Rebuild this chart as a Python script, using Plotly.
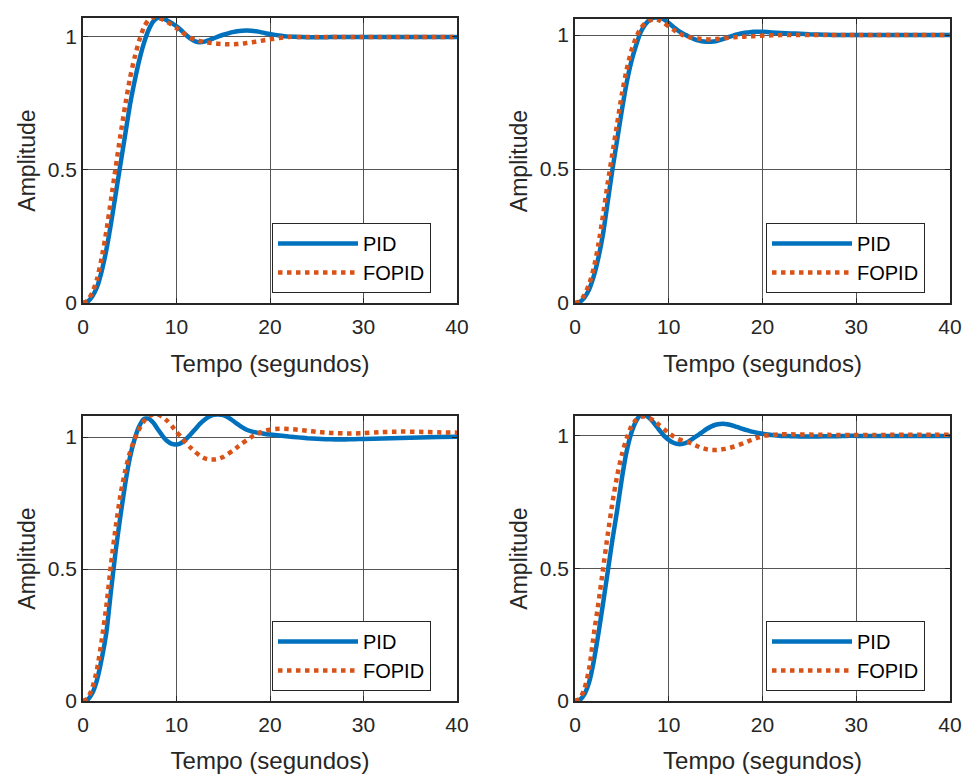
import plotly.graph_objects as go

# ---------------- data ----------------
TIME = [0, 0.5, 1, 1.5, 2, 2.5, 3, 3.5, 4, 4.5, 5, 5.5, 6, 6.5, 7, 7.5, 8, 8.5, 9, 9.5,
        10, 10.5, 11, 11.5, 12, 12.5, 13, 13.5, 14, 14.5, 15, 15.5, 16, 16.5, 17, 17.5,
        18, 18.5, 19, 19.5, 20, 21, 22, 23, 24, 25, 26, 27, 28, 29, 30, 32, 34, 36, 38, 40]

TL_PID = [0, 0.005, 0.025, 0.06, 0.12, 0.2, 0.3, 0.41, 0.52, 0.63, 0.74, 0.83, 0.91, 0.975,
          1.025, 1.058, 1.072, 1.07, 1.062, 1.052, 1.04, 1.025, 1.008, 0.993, 0.983, 0.98,
          0.982, 0.988, 0.995, 1.002, 1.008, 1.013, 1.018, 1.021, 1.023, 1.024, 1.023, 1.021,
          1.018, 1.014, 1.011, 1.005, 1.001, 1.0, 0.999, 0.999, 0.999, 1.0, 1.0, 1.0, 1.0,
          1.0, 1.0, 1.0, 1.0, 1.0]
TL_FOPID = [0, 0.01, 0.04, 0.09, 0.17, 0.27, 0.39, 0.51, 0.63, 0.74, 0.84, 0.92, 0.985, 1.035,
            1.064, 1.074, 1.072, 1.066, 1.057, 1.045, 1.033, 1.02, 1.008, 0.997, 0.989, 0.984,
            0.98, 0.978, 0.976, 0.974, 0.973, 0.972, 0.972, 0.973, 0.975, 0.977, 0.98, 0.982,
            0.985, 0.988, 0.991, 0.996, 1.0, 1.0, 1.0, 1.0, 1.0, 1.0, 1.0, 1.0, 1.0,
            1.0, 1.0, 1.0, 1.0, 1.0]

TR_PID = [0, 0.004, 0.02, 0.05, 0.1, 0.17, 0.26, 0.38, 0.5, 0.61, 0.72, 0.82, 0.9, 0.96,
          1.01, 1.04, 1.058, 1.065, 1.065, 1.058, 1.045, 1.03, 1.017, 1.006, 0.997, 0.988,
          0.981, 0.977, 0.975, 0.975, 0.977, 0.982, 0.988, 0.994, 1.0, 1.004, 1.008, 1.01,
          1.012, 1.012, 1.012, 1.01, 1.008, 1.006, 1.005, 1.003, 1.002, 1.001, 1.0, 1.0, 1.0,
          1.0, 1.0, 1.0, 1.0, 1.0]
TR_FOPID = [0, 0.006, 0.03, 0.07, 0.13, 0.22, 0.33, 0.45, 0.56, 0.67, 0.78, 0.87, 0.94, 0.99,
            1.025, 1.045, 1.055, 1.058, 1.055, 1.045, 1.032, 1.02, 1.008, 1.0, 0.994, 0.99,
            0.987, 0.985, 0.984, 0.984, 0.985, 0.987, 0.989, 0.99, 0.992, 0.993, 0.994, 0.995,
            0.996, 0.997, 0.998, 0.999, 1.0, 1.0, 1.0, 1.0, 1.0, 1.0, 1.0, 1.0, 1.0,
            1.0, 1.0, 1.0, 1.0, 1.0]

BL_PID = [0, 0.005, 0.03, 0.08, 0.16, 0.26, 0.42, 0.57, 0.7, 0.82, 0.92, 0.99, 1.04, 1.068,
          1.07, 1.055, 1.03, 1.005, 0.985, 0.974, 0.972, 0.978, 0.992, 1.01, 1.03, 1.05,
          1.066, 1.078, 1.085, 1.086, 1.083, 1.075, 1.063, 1.05, 1.038, 1.028, 1.022, 1.018,
          1.015, 1.012, 1.01, 1.006, 1.002, 0.999, 0.996, 0.994, 0.992, 0.991, 0.991, 0.992,
          0.993, 0.995, 0.997, 0.999, 1.0, 1.001]
BL_FOPID = [0, 0.01, 0.05, 0.12, 0.23, 0.36, 0.52, 0.66, 0.78, 0.87, 0.94, 0.99, 1.03, 1.06,
            1.078, 1.086, 1.085, 1.077, 1.062, 1.042, 1.02, 1.0, 0.978, 0.96, 0.944, 0.93,
            0.92, 0.915, 0.915, 0.918, 0.925, 0.936, 0.948, 0.962, 0.976, 0.988, 1.0, 1.01,
            1.018, 1.024, 1.028, 1.032, 1.031, 1.028, 1.024, 1.02, 1.017, 1.015, 1.014, 1.014,
            1.015, 1.019, 1.021, 1.02, 1.018, 1.017]

BR_PID = [0, 0.004, 0.025, 0.07, 0.15, 0.255, 0.37, 0.49, 0.61, 0.72, 0.84, 0.94, 1.01, 1.055,
          1.078, 1.078, 1.065, 1.045, 1.022, 1.0, 0.985, 0.974, 0.969, 0.97, 0.976, 0.988,
          1.0, 1.012, 1.025, 1.035, 1.042, 1.045, 1.045, 1.042, 1.037, 1.031, 1.025, 1.02,
          1.015, 1.011, 1.008, 1.003, 1.0, 0.999, 0.998, 0.998, 0.998, 0.999, 0.999, 1.0,
          1.0, 1.0, 1.0, 1.0, 1.0, 1.0]
BR_FOPID = [0, 0.008, 0.045, 0.12, 0.25, 0.37, 0.5, 0.63, 0.75, 0.85, 0.93, 0.99, 1.035, 1.06,
            1.072, 1.073, 1.066, 1.055, 1.04, 1.025, 1.01, 0.998, 0.988, 0.982, 0.977, 0.97,
            0.962, 0.955, 0.95, 0.947, 0.947, 0.948, 0.951, 0.955, 0.96, 0.966, 0.973, 0.98,
            0.987, 0.993, 0.999, 1.004, 1.006, 1.006, 1.005, 1.005, 1.004, 1.004, 1.003, 1.003,
            1.003, 1.003, 1.004, 1.004, 1.004, 1.004]

SERIES_NAMES = ["PID", "FOPID"]
X_TICKS = [0, 10, 20, 30, 40]
Y_TICKS = [0, 0.5, 1]
Y_TICK_TEXT = ["0", "0.5", "1"]
X_TITLE = "Tempo (segundos)"
Y_TITLE = "Amplitude"

PANELS = [
    (TL_PID, TL_FOPID, 1.071),
    (TR_PID, TR_FOPID, 1.06),
    (BL_PID, BL_FOPID, 1.08),
    (BR_PID, BR_FOPID, 1.075),
]

# ---------------- styling / layout ----------------
W, H = 964, 774
BLUE = "#0072BD"
ORANGE = "#D95319"
TXT = "#262626"
FONT = "Liberation Sans, Arial, sans-serif"

# pixel boxes of the 4 axes: (left, right, top, bottom)
BOXES = [(83, 457, 18, 303), (575, 950, 19, 303), (83, 457, 416, 701), (575, 950, 416, 701)]
LEGEND_POS = [(272, 223), (766, 223), (272, 621), (766, 621)]

fig = go.Figure()
layout = dict(
    width=W, height=H, margin=dict(l=0, r=0, t=0, b=0),
    paper_bgcolor="white", plot_bgcolor="white",
    font=dict(family=FONT, color=TXT, size=21),
    showlegend=True,
)

for i, ((pid, fopid, ytop), (l, r, t, b), (lx, ly)) in enumerate(zip(PANELS, BOXES, LEGEND_POS)):
    n = i + 1
    xa = "x" if n == 1 else f"x{n}"
    ya = "y" if n == 1 else f"y{n}"
    lg = "legend" if n == 1 else f"legend{n}"
    fig.add_trace(go.Scatter(x=TIME, y=pid, mode="lines", name=SERIES_NAMES[0],
                             line=dict(color=BLUE, width=4.5, shape="spline", smoothing=0.6),
                             xaxis=xa, yaxis=ya, legend=lg))
    fig.add_trace(go.Scatter(x=TIME, y=fopid, mode="lines", name=SERIES_NAMES[1],
                             line=dict(color=ORANGE, width=4.5, dash="dot", shape="spline", smoothing=0.6),
                             xaxis=xa, yaxis=ya, legend=lg))
    axkw = dict(showline=True, linecolor=TXT, linewidth=1.5, mirror="ticks",
                ticks="inside", ticklen=5, tickcolor=TXT, tickwidth=1,
                showgrid=True, gridcolor="#555555", gridwidth=1, zeroline=False,
                automargin=False,
                tickfont=dict(size=21, color=TXT, family=FONT))
    layout["xaxis" if n == 1 else f"xaxis{n}"] = dict(
        domain=[l / W, r / W], range=[0, 40], tickvals=X_TICKS, anchor=ya,
        ticklabelstandoff=4,
        title=dict(text=X_TITLE, font=dict(size=24), standoff=18), **axkw)
    layout["yaxis" if n == 1 else f"yaxis{n}"] = dict(
        domain=[1 - b / H, 1 - t / H], range=[0, ytop], tickvals=Y_TICKS, ticktext=Y_TICK_TEXT,
        anchor=xa, title=dict(text=Y_TITLE, font=dict(size=23), standoff=6), **axkw)
    layout[lg] = dict(x=lx / W, y=1 - ly / H, xanchor="left", yanchor="top",
                      bgcolor="white", bordercolor="#262626", borderwidth=1,
                      font=dict(size=20, color="black", family=FONT), itemwidth=80,
                      tracegroupgap=0)

fig.update_layout(**layout)
fig.write_html("out.html")
